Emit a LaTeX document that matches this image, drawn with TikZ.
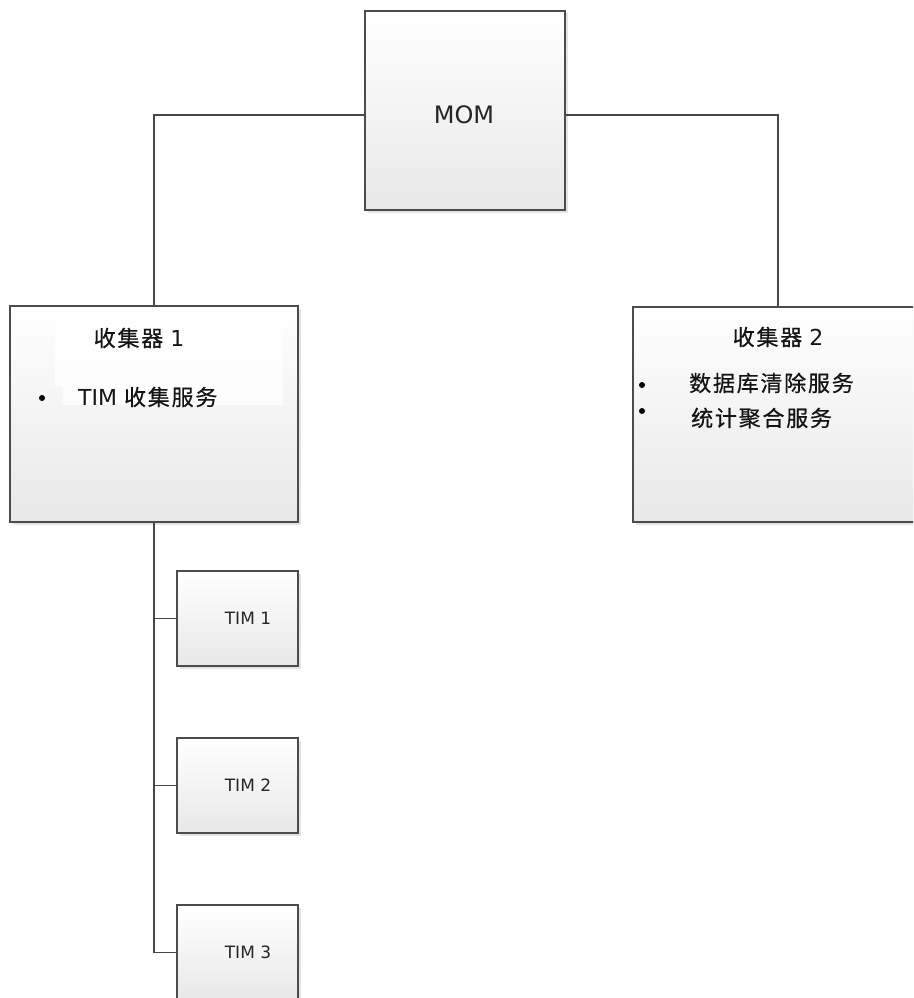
\documentclass[tikz,border=0pt]{standalone}
\usepackage{fontspec}
\setmainfont{DejaVu Sans}
\newfontfamily\cjk{Noto Sans CJK SC}[LetterSpace=8, FakeBold=0.6]
\usetikzlibrary{shadows}
\begin{document}
\begin{tikzpicture}[x=1pt,y=-1pt,
  box/.style={draw=black!70, line width=1.5pt, top color=white, bottom color=black!9,
    drop shadow={shadow xshift=2.5pt,shadow yshift=-2.5pt,opacity=0.3,fill=black!35},
    inner sep=0pt, rectangle},
  wire/.style={draw=black!72, line width=1.6pt},
  bigtxt/.style={font=\fontsize{22}{26}\selectfont, inner sep=0pt, text=black!92},
  momtxt/.style={font=\fontsize{24}{28}\selectfont, inner sep=0pt, text=black!85},
  timtxt/.style={font=\fontsize{17}{20}\selectfont, inner sep=0pt, text=black!85},
  dot/.style={circle, fill=black, inner sep=0pt, minimum size=6pt}]
\useasboundingbox (0,0) rectangle (913,998);
\clip (0,0) rectangle (913,998);
% boxes
\node[box, minimum width=200pt, minimum height=199pt] (mom) at (465,110.5) {};
\node[box, minimum width=288pt, minimum height=216pt] (c1) at (154,414) {};
\node[box, minimum width=290pt, minimum height=215pt] (c2) at (778,414.5) {};
\node[box, minimum width=121pt, minimum height=95pt] (tim1) at (237.5,618.5) {};
\node[box, minimum width=121pt, minimum height=95pt] (tim2) at (237.5,785.5) {};
\node[box, minimum width=121pt, minimum height=95pt] (tim3) at (237.5,952.5) {};
% connectors
\draw[wire] ([yshift=-4.5pt]mom.west) -| (c1.north);
\draw[wire] ([yshift=-4.5pt]mom.east) -| (c2.north);
\draw[wire] (c1.south) |- (tim3.west);
\draw[wire] (c1.south |- tim1.west) -- (tim1.west);
\draw[wire] (c1.south |- tim2.west) -- (tim2.west);
% inner highlight in collector 1
\fill[white, opacity=0.8] (55,314) rectangle (283,387);
\fill[white, opacity=0.8] (63,387) rectangle (283,405);
% texts
\node[momtxt] (tmom) at (464,115) {MOM};
\node[bigtxt] (t1) at (139,338) {{\cjk 收集器} 1};
\node[dot] (b1) at (42,398) {};
\node[bigtxt, anchor=west] (t1a) at (78,397) {TIM {\cjk 收集服务}};
\node[bigtxt] (t2) at (778,337) {{\cjk 收集器} 2};
\node[dot] (b2) at (642,385) {};
\node[dot] (b3) at (642,411) {};
\node[bigtxt, anchor=west] (t2a) at (689,383) {\cjk 数据库清除服务};
\node[bigtxt, anchor=west] (t2b) at (691,418) {\cjk 统计聚合服务};
\node[timtxt] (tt1) at (248,618) {TIM 1};
\node[timtxt] (tt2) at (248,785) {TIM 2};
\node[timtxt] (tt3) at (248,952) {TIM 3};
\end{tikzpicture}
\end{document}
